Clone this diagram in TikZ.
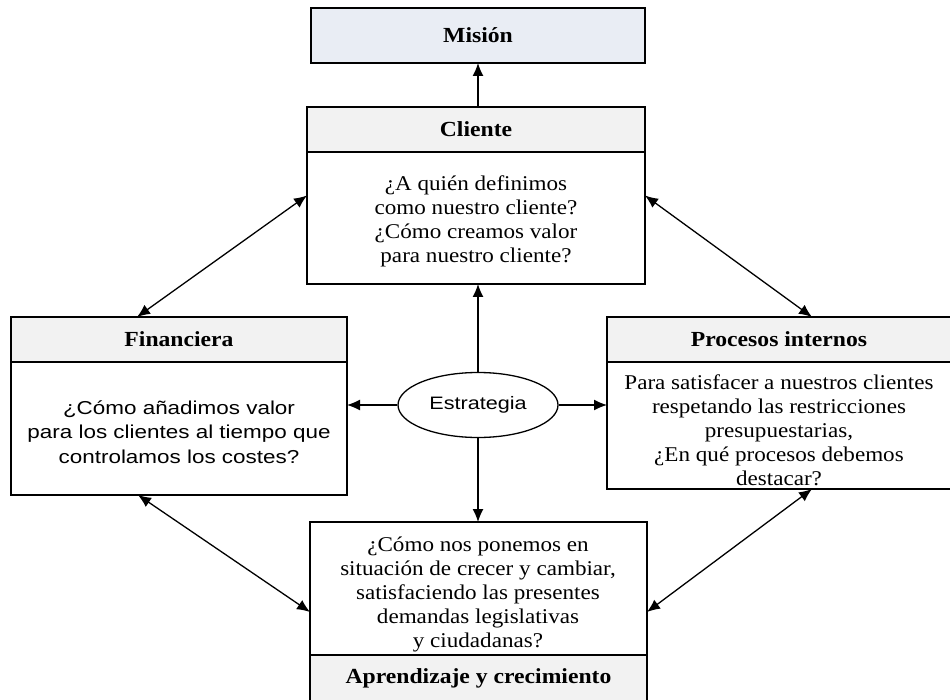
\documentclass[tikz,border=0pt]{standalone}
\usepackage{fontspec}
\setmainfont[FakeStretch=1.1]{Liberation Serif}
\newfontfamily\sansf[FakeStretch=1.2]{Liberation Sans}
\usetikzlibrary{arrows.meta,shapes.geometric}
\definecolor{misfill}{HTML}{E9EDF4}
\definecolor{hdrfill}{HTML}{F2F2F2}
\begin{document}
\begin{tikzpicture}[x=1pt,y=-1pt,
  box/.style={draw,line width=1.3pt,rectangle,inner sep=0pt,outer sep=0pt},
  hdrfont/.style={font=\fontsize{21.5}{24}\selectfont\bfseries},
  hdr/.style={box,fill=hdrfill,hdrfont},
  body/.style={align=center,inner sep=0pt,font=\fontsize{21}{24}\selectfont},
  sbody/.style={align=center,inner sep=0pt,font=\sansf\fontsize{18.7}{24.5}\selectfont},
  conn/.style={line width=1.3pt,-{Latex[length=13pt,width=11pt]}},
  both/.style={line width=1.3pt,{Latex[length=13pt,width=11pt]}-{Latex[length=13pt,width=11pt]}}
]
\useasboundingbox (0,0) rectangle (950,700);

% mission
\node[box,fill=misfill,minimum width=334pt,minimum height=55pt,hdrfont] (mis) at (478,35.5) {Misión};

% customer perspective
\node[box,minimum width=338pt,minimum height=177pt] (cli) at (476,195.5) {};
\node[hdr,minimum width=338pt,minimum height=45pt,anchor=north] (clih) at (cli.north) {Cliente};
\node[body] (clit) at (476,221) {¿A quién definimos\\como nuestro cliente?\\¿Cómo creamos valor\\para nuestro cliente?};

% financial perspective
\node[box,minimum width=336pt,minimum height=178pt] (fin) at (179,406) {};
\node[hdr,minimum width=336pt,minimum height=45pt,anchor=north] (finh) at (fin.north) {Financiera};
\node[sbody] (fint) at (179,432) {¿Cómo añadimos valor\\para los clientes al tiempo que\\controlamos los costes?};

% internal processes
\node[box,minimum width=344pt,minimum height=172pt] (pro) at (779,403) {};
\node[hdr,minimum width=344pt,minimum height=45pt,anchor=north] (proh) at (pro.north) {Procesos internos};
\node[body] (prot) at (779,430) {Para satisfacer a nuestros clientes\\respetando las restricciones\\presupuestarias,\\¿En qué procesos debemos\\destacar?};

% learning and growth
\node[box,minimum width=337pt,minimum height=180pt] (apr) at (478.5,612) {};
\node[hdr,minimum width=337pt,minimum height=47pt,anchor=south] (aprh) at (apr.south) {Aprendizaje y crecimiento};
\node[body] (aprt) at (478,594) {¿Cómo nos ponemos en\\situación de crecer y cambiar,\\satisfaciendo las presentes\\demandas legislativas\\y ciudadanas?};

% strategy
\node[ellipse,draw,line width=1.3pt,minimum width=160pt,minimum height=65pt,inner sep=0pt,
      font=\sansf\fontsize{18}{22}\selectfont] (est) at (478,405) {Estrategia};

% connectors
\draw[conn] (cli.north -| mis.south) -- (mis.south);
\draw[conn] (est.north) -- (est.north |- cli.south);
\draw[conn] (est.south) -- (est.south |- apr.north);
\draw[conn] (est.west) -- (est.west -| fin.east);
\draw[conn] (est.east) -- (est.east -| pro.west);
\draw[both] (cli.west) -- ([xshift=126pt]fin.north west);
\draw[both] (cli.east) -- ([xshift=205pt]pro.north west);
\draw[both] ([xshift=127pt]fin.south west) -- (apr.west);
\draw[both] ([xshift=205pt]pro.south west) -- (apr.east);
\end{tikzpicture}
\end{document}
